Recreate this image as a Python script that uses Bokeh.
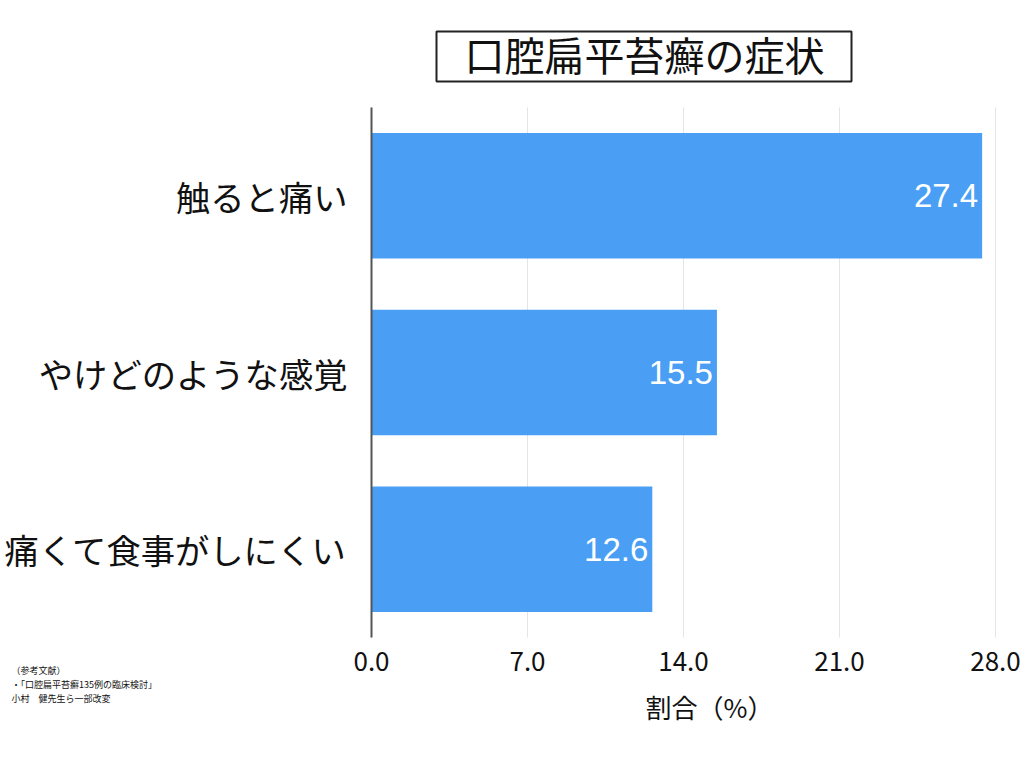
from bokeh.plotting import figure
from bokeh.models import Range1d, Label, FixedTicker, NumeralTickFormatter, ColumnDataSource, BoxAnnotation
from bokeh.core.properties import value
from bokeh.embed import file_html
from bokeh.resources import INLINE

# data (top to bottom as shown)
categories = ["触ると痛い", "やけどのような感覚", "痛くて食事がしにくい"]
values = [27.4, 15.5, 12.6]
value_labels = ["27.4", "15.5", "12.6"]
x_ticks = [0, 7, 14, 21, 28]
x_max = 28
title_text = "口腔扁平苔癬の症状"
x_label = "割合（%）"
ref_lines = ["（参考文献）", "・「口腔扁平苔癬135例の臨床検討」", "小村　健先生ら一部改変"]

W, H = 1024, 768
FL, FR, FT, FB = 371, 995, 107, 637   # plot-area edges in page pixels
JP = "Noto Sans CJK JP"

n = len(categories)
ypos = [n - 0.5 - i for i in range(n)]          # category slots, top first
xpx = (FR - FL) / x_max                          # px per data unit
ypx = (FB - FT) / n                              # px per category slot

def dx(px):  # page x -> data x
    return (px - FL) / xpx

def dy(py):  # page y -> data y
    return (FB - py) / ypx

p = figure(width=W, height=H, output_backend="svg", toolbar_location=None,
           x_range=Range1d(dx(0), dx(W)),
           y_range=Range1d(dy(H), dy(0)),
           min_border=0)
p.outline_line_color = None
p.background_fill_color = "white"
p.border_fill_color = "white"
p.xgrid.visible = False
p.ygrid.visible = False

# grid lines (behind bars)
p.segment(x0=x_ticks, x1=x_ticks, y0=[0] * len(x_ticks), y1=[n] * len(x_ticks),
          line_color="#e4e4e4", line_width=1)

src = ColumnDataSource(dict(y=ypos, val=values, lab=value_labels))
p.hbar(y="y", right="val", left=0, height=0.71, source=src,
       fill_color="#4a9ff5", line_color=None)
p.text(x="val", y="y", text="lab", source=src, x_offset=-4,
       text_align="right", text_baseline="middle", text_color="white",
       text_font=value("Liberation Sans"), text_font_size="33px")

# x axis
xa = p.xaxis[0]
xa.fixed_location = 0
xa.ticker = FixedTicker(ticks=x_ticks)
xa.formatter = NumeralTickFormatter(format="0.0")
xa.axis_line_color = None
xa.major_tick_line_color = None
xa.minor_tick_line_color = None
xa.major_label_text_font = JP
xa.major_label_text_font_size = "26px"
xa.major_label_text_color = "#111111"
xa.major_label_standoff = 8

# y axis
ya = p.yaxis[0]
ya.fixed_location = 0
ya.bounds = (0, n)
ya.ticker = FixedTicker(ticks=ypos)
ya.major_label_overrides = {y: c for y, c in zip(ypos, categories)}
ya.axis_line_color = "#555555"
ya.axis_line_width = 2
ya.major_tick_line_color = None
ya.minor_tick_line_color = None
ya.major_label_text_font = JP
ya.major_label_text_font_size = "34.3px"
ya.major_label_text_color = "#111111"
ya.major_label_standoff = 18

# title box
p.add_layout(BoxAnnotation(left=dx(436), right=dx(851), top=dy(31), bottom=dy(81),
                           fill_color="white", fill_alpha=1.0,
                           line_color="#222222", line_width=2, line_alpha=1.0))
p.add_layout(Label(x=644, y=H - 53, x_units="screen", y_units="screen", text=title_text,
                   text_align="center", text_baseline="middle",
                   text_font=JP, text_font_size="40px", text_color="#111111"))

# axis label
p.add_layout(Label(x=709, y=H - 706, x_units="screen", y_units="screen", text=x_label,
                   text_align="center", text_baseline="middle",
                   text_font=JP, text_font_size="26px", text_color="#111111"))

# references
for t, yy in zip(ref_lines, [670, 684, 698]):
    p.add_layout(Label(x=11, y=H - yy, x_units="screen", y_units="screen", text=t,
                       text_align="left", text_baseline="middle",
                       text_font=JP, text_font_size="9px", text_color="#111111"))

open("out.html", "w").write(file_html(p, INLINE))
